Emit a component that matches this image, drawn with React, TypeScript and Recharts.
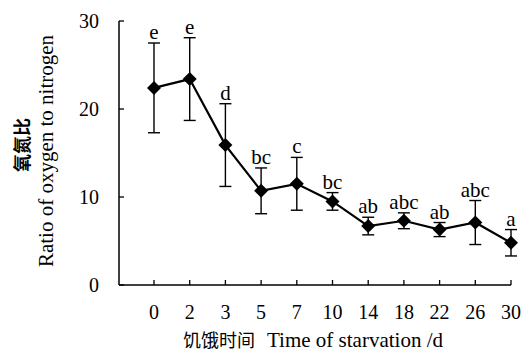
import { LineChart, Line, XAxis, YAxis, ErrorBar, LabelList } from 'recharts';

const days = ['0', '2', '3', '5', '7', '10', '14', '18', '22', '26', '30'];
const ratio = [22.4, 23.4, 15.9, 10.7, 11.5, 9.5, 6.7, 7.3, 6.3, 7.1, 4.8];
const sd = [5.1, 4.7, 4.7, 2.6, 3.0, 1.0, 1.0, 0.9, 0.8, 2.5, 1.5];
const letters = ['e', 'e', 'd', 'bc', 'c', 'bc', 'ab', 'abc', 'ab', 'abc', 'a'];
const yTicks = [0, 10, 20, 30];

const data = days.map((d, i) => ({
  day: d,
  ratio: ratio[i],
  sd: sd[i],
  top: ratio[i] + sd[i],
  letter: letters[i],
}));

const serif = '"Liberation Serif", "Times New Roman", serif';
const cjk = '"Noto Sans CJK SC", sans-serif';

function Diamond({ cx, cy }: { cx?: number; cy?: number }) {
  if (cx == null || cy == null) return null;
  return <path d={`M${cx},${cy - 7}L${cx + 7},${cy}L${cx},${cy + 7}L${cx - 7},${cy}Z`} fill="#000" />;
}

function XTick({ x, y, payload }: { x?: number; y?: number; payload?: { value: string } }) {
  return (
    <g>
      <line x1={x} x2={x} y1={y} y2={(y ?? 0) - 5} stroke="#000" strokeWidth={1.3} />
      <text x={x} y={(y ?? 0) + 34} textAnchor="middle" fontFamily={serif} fontSize={20} fill="#000">
        {payload?.value}
      </text>
    </g>
  );
}

function YTick({ x, y, payload }: { x?: number; y?: number; payload?: { value: number } }) {
  return (
    <g>
      <line x1={x} x2={(x ?? 0) + 5} y1={y} y2={y} stroke="#000" strokeWidth={1.3} />
      <text x={(x ?? 0) - 20} y={y} dy="0.35em" textAnchor="end" fontFamily={serif} fontSize={20} fill="#000">
        {payload?.value}
      </text>
    </g>
  );
}

function YTitle() {
  return (
    <g>
      <text
        x={23}
        y={145}
        transform="rotate(-90 23 145)"
        textAnchor="middle"
        dy="0.35em"
        fontFamily={cjk}
        fontWeight={700}
        fontSize={18}
        fill="#000"
      >
        氧氮比
      </text>
      <text
        x={46}
        y={151}
        transform="rotate(-90 46 151)"
        textAnchor="middle"
        dy="0.35em"
        fontFamily={serif}
        fontSize={21}
        fill="#000"
      >
        Ratio of oxygen to nitrogen
      </text>
    </g>
  );
}

function XTitle() {
  return (
    <text x={313} y={347} textAnchor="middle" fill="#000">
      <tspan fontFamily={cjk} fontSize={18}>饥饿时间</tspan>
      <tspan fontFamily={serif} fontSize={21} dx={12}>Time of starvation /d</tspan>
    </text>
  );
}

export default function App() {
  return (
    <div style={{ position: 'absolute', left: 0, top: 0, width: 524, height: 352, background: '#fff' }}>
      <LineChart width={524} height={352} data={data} margin={{ top: 21, right: 13, left: 59, bottom: 37 }}>
        <XAxis
          dataKey="day"
          scale="point"
          padding={{ left: 35, right: 0 }}
          tickLine={false}
          tickSize={0}
          tickMargin={0}
          tick={<XTick />}
          height={30}
          axisLine={{ stroke: '#000', strokeWidth: 1.5 }}
          interval={0}
          label={<XTitle />}
        />
        <YAxis
          domain={[0, 30]}
          ticks={yTicks}
          tickLine={false}
          tickSize={0}
          tickMargin={0}
          tick={<YTick />}
          width={60}
          axisLine={{ stroke: '#000', strokeWidth: 1.5 }}
          label={<YTitle />}
        />
        <Line
          dataKey="top"
          stroke="none"
          dot={false}
          activeDot={false}
          isAnimationActive={false}
        >
          <LabelList dataKey="letter" position="top" offset={4} fontFamily={serif} fontSize={21} fill="#000" />
        </Line>
        <Line
          dataKey="ratio"
          stroke="#000"
          strokeWidth={2.2}
          dot={<Diamond />}
          activeDot={false}
          isAnimationActive={false}
        >
          <ErrorBar dataKey="sd" width={6} stroke="#000" strokeWidth={1.4} direction="y" />
        </Line>
      </LineChart>
    </div>
  );
}
